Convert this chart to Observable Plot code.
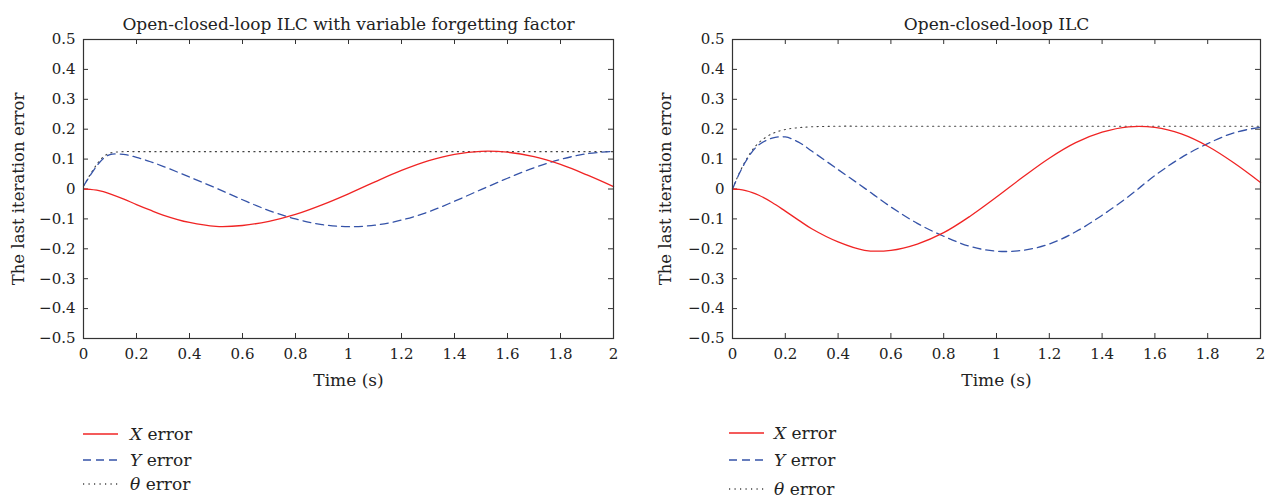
<!DOCTYPE html>
<html>
<head>
<meta charset="utf-8">
<script src="https://cdn.jsdelivr.net/npm/d3@7"></script>
<script src="https://cdn.jsdelivr.net/npm/@observablehq/plot@0.6"></script>
<style>
  html, body { margin: 0; padding: 0; background: #fff; }
  #root { position: relative; width: 1270px; height: 498px; background: #fff; overflow: hidden; font-family: "DejaVu Serif", serif; color: #222; }
  .panel { position: absolute; top: 0; }
  .leg { position: absolute; font-size: 17px; height: 20px; line-height: 20px; white-space: nowrap; }
  .leg svg { position: absolute; top: 0; }
  .leg span { position: absolute; top: 0; }
</style>
</head>
<body>
<div id="root"></div>
<script>
// ---- data ----
const T = [0, 0.025, 0.05, 0.075, 0.1, 0.15, 0.2, 0.25, 0.3, 0.4, 0.5, 0.6, 0.7, 0.8, 0.9, 1.0, 1.1, 1.2, 1.3, 1.4, 1.5, 1.6, 1.7, 1.8, 1.9, 2.0];

// Left panel: Open-closed-loop ILC with variable forgetting factor
const leftXErr = [0, -0.001, -0.004, -0.009, -0.016, -0.033, -0.052, -0.07, -0.087, -0.112, -0.125, -0.122, -0.108, -0.085, -0.053, -0.016, 0.024, 0.062, 0.094, 0.116, 0.126, 0.123, 0.108, 0.082, 0.047, 0.008];
const leftYErr = [0.01, 0.045, 0.077, 0.102, 0.115, 0.116, 0.106, 0.092, 0.076, 0.04, 0.003, -0.036, -0.072, -0.1, -0.119, -0.126, -0.121, -0.104, -0.077, -0.041, -0.002, 0.036, 0.071, 0.099, 0.118, 0.126];
const leftThErr = [0.01, 0.048, 0.082, 0.108, 0.12, 0.125, 0.125, 0.125, 0.125, 0.125, 0.125, 0.125, 0.125, 0.125, 0.125, 0.125, 0.125, 0.125, 0.125, 0.125, 0.125, 0.125, 0.125, 0.125, 0.125, 0.125];

// Right panel: Open-closed-loop ILC
const rightXErr = [0, -0.0015, -0.0055, -0.012, -0.021, -0.045, -0.074, -0.104, -0.133, -0.177, -0.205, -0.205, -0.184, -0.146, -0.091, -0.027, 0.04, 0.103, 0.155, 0.19, 0.208, 0.206, 0.184, 0.143, 0.087, 0.022];
const rightYErr = [0, 0.05, 0.092, 0.125, 0.148, 0.17, 0.174, 0.157, 0.127, 0.065, 0.003, -0.06, -0.115, -0.158, -0.192, -0.208, -0.205, -0.184, -0.143, -0.088, -0.025, 0.045, 0.105, 0.152, 0.188, 0.207];
const rightThErr = [0, 0.052, 0.095, 0.13, 0.155, 0.185, 0.199, 0.205, 0.208, 0.21, 0.21, 0.21, 0.21, 0.21, 0.21, 0.21, 0.21, 0.21, 0.21, 0.21, 0.21, 0.21, 0.21, 0.21, 0.21, 0.21];

const xTicks = [0, 0.2, 0.4, 0.6, 0.8, 1, 1.2, 1.4, 1.6, 1.8, 2];
const yTicks = [-0.5, -0.4, -0.3, -0.2, -0.1, 0, 0.1, 0.2, 0.3, 0.4, 0.5];

const titles = ["Open-closed-loop ILC with variable forgetting factor", "Open-closed-loop ILC"];
const xLabel = "Time (s)";
const yLabel = "The last iteration error";
const seriesNames = ["X", "Y", "θ"];
const seriesColors = ["#f02424", "#3553a8", "#444444"];
const seriesDash = [null, "8,5", "1.2,4.3"];

// ---- drawing ----
const fmt = d => (d < 0 ? "\u2212" : "") + Math.abs(d);

function panel(title, series, left, marginLeft, marginRight, yLabelOffset) {
  const W = 635, H = 400, mT = 39, mB = 62;
  const pw = W - marginLeft - marginRight, ph = H - mT - mB;
  const lines = series.map((vals, k) =>
    Plot.line(T.map((t, i) => ({t, v: vals[i]})), {
      x: "t", y: "v", stroke: seriesColors[k], strokeWidth: k === 2 ? 1.1 : 1.3,
      strokeDasharray: seriesDash[k], curve: "catmull-rom"
    })
  );
  const svg = Plot.plot({
    width: W, height: H, marginTop: mT, marginBottom: mB, marginLeft, marginRight,
    x: {domain: [0, 2]},
    y: {domain: [-0.5, 0.5]},
    style: {fontFamily: "DejaVu Serif", fontSize: "15px", color: "#222", background: "#fff"},
    marks: [
      Plot.axisX({ticks: xTicks, tickFormat: fmt, tickSize: 0, tickPadding: 10, label: null}),
      Plot.axisY({ticks: yTicks, tickFormat: fmt, tickSize: 0, tickPadding: 8, label: null}),
      Plot.tickX(xTicks, {x: d => d, insetTop: ph - 5, stroke: "#333"}),
      Plot.tickX(xTicks, {x: d => d, insetBottom: ph - 5, stroke: "#333"}),
      Plot.tickY(yTicks, {y: d => d, insetRight: pw - 5, stroke: "#333"}),
      Plot.tickY(yTicks, {y: d => d, insetLeft: pw - 5, stroke: "#333"}),
      ...lines.slice().reverse(),
      Plot.frame({stroke: "#333", strokeWidth: 1.2}),
      Plot.text([title], {text: d => d, frameAnchor: "top", dy: -22, fontSize: 17, fill: "#222"}),
      Plot.text([xLabel], {text: d => d, frameAnchor: "bottom", dy: 47, fontSize: 17, fill: "#222"}),
      Plot.text([yLabel], {text: d => d, frameAnchor: "left", textAnchor: "middle", rotate: -90, dx: yLabelOffset, fontSize: 16.5, fill: "#222"})
    ]
  });
  const div = document.createElement("div");
  div.className = "panel";
  div.style.left = left + "px";
  div.appendChild(svg);
  return div;
}

const root = document.getElementById("root");
root.appendChild(panel(titles[0], [leftXErr, leftYErr, leftThErr], 0, 83, 22, -65));
root.appendChild(panel(titles[1], [rightXErr, rightYErr, rightThErr], 635, 97, 10, -67));

function legend(x0, lineW, textX, rows) {
  seriesNames.forEach((name, k) => {
    const item = document.createElement("div");
    item.className = "leg";
    item.style.left = x0 + "px";
    item.style.top = (rows[k] - 10) + "px";
    item.style.width = "200px";
    const dash = seriesDash[k] ? `stroke-dasharray="${seriesDash[k]}"` : "";
    item.innerHTML = `<svg width="${lineW}" height="20"><line x1="0" x2="${lineW}" y1="10" y2="10" stroke="${seriesColors[k]}" stroke-width="1.3" ${dash}/></svg>` +
      `<span style="left:${textX - x0}px"><i>${name}</i> error</span>`;
    root.appendChild(item);
  });
}
legend(83, 35, 130, [434, 460, 484]);
legend(729, 35, 774, [433, 460, 489]);
</script>
</body>
</html>
